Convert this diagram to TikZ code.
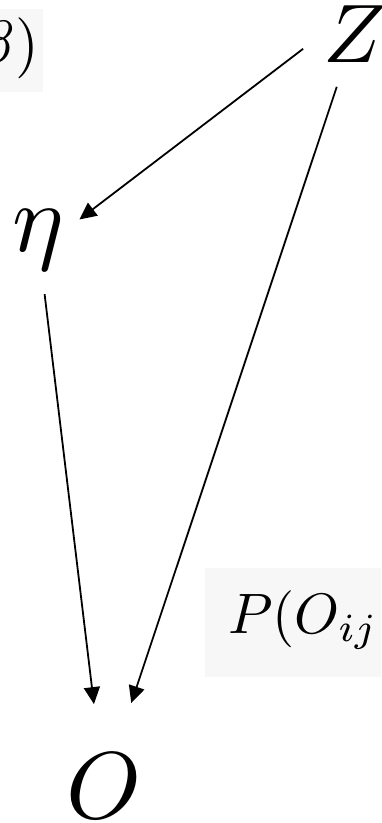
\documentclass[tikz,border=0pt]{standalone}
\usepackage{graphicx}
\usepackage{tikz}
\usetikzlibrary{arrows.meta}
\definecolor{panelgray}{HTML}{F7F7F7}
\newcommand{\bigmath}[2]{\scalebox{#1}{$#2$}}

\begin{document}
\begin{tikzpicture}[
  x=1pt, y=-1pt,
  var/.style={inner sep=0pt, anchor=base west},
  arr/.style={-{Triangle[length=17pt,width=16pt]}, line width=1.8pt},
  panel/.style={fill=panelgray},
]
\useasboundingbox (0,0) rectangle (381,823);

% ---- formula panels (cut at the picture edge) -------------------------------
\begin{scope}
  \clip (0,9) rectangle (43,92);
  \fill[panel] (0,9) rectangle (43,92);
  \node[var, anchor=base east] (prior) at (39,63) {\bigmath{6.1}{\beta)}};
\end{scope}
\begin{scope}
  \clip (205,568) rectangle (381,677);
  \fill[panel] (205,568) rectangle (381,677);
  \node[var] (lik) at (228,633) {\bigmath{5.7}{P(O_{ij}}};
\end{scope}

% ---- variables ---------------------------------------------------------------
\node[var] (Z)   at (323,62)  {\bigmath{8.3}{Z}};
\node[var] (eta) at (12,251)  {\bigmath{9.7}{\eta}};
\node[var] (O)   at (66,818)  {\bigmath{9.5}{O}};

% ---- edges -------------------------------------------------------------------
\draw[arr, shorten <=25pt, shorten >=52pt] (Z.west) -- (eta.base);
\draw[arr, shorten <=56pt, shorten >=87pt] (Z.center) -- (O.center);
\draw[arr, shorten <=55pt, shorten >=82pt] (eta.center) -- (O.center);
\end{tikzpicture}
\end{document}
